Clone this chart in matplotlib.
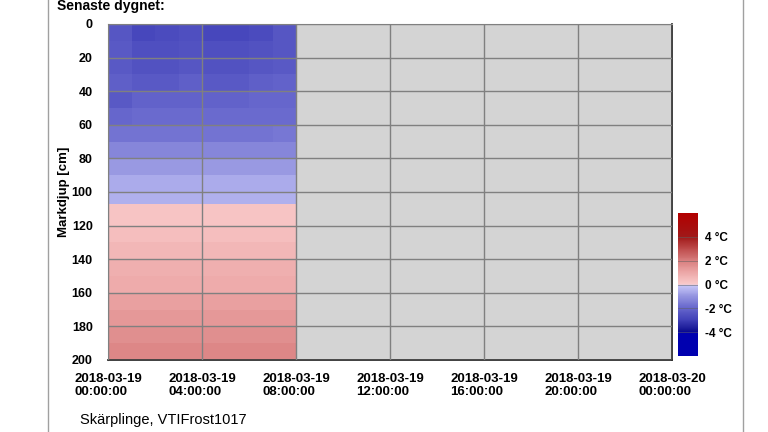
import numpy as np
import matplotlib
matplotlib.use("Agg")
import matplotlib.pyplot as plt
from matplotlib.colors import LinearSegmentedColormap, Normalize

# depth bin edges (cm) and hour edges of the measured block
depth_edges = [0, 10, 20, 30, 40, 50, 60, 70, 80, 90, 100, 107, 120, 130, 140, 150, 160, 170, 180, 190, 200]
hour_edges = [0, 1, 2, 3, 4, 5, 6, 7, 8]

# soil temperature (deg C), one row per depth bin, one column per hour
temps = [
    [-2.4, -2.8, -2.7, -2.6, -2.8, -2.8, -2.7, -2.4],
    [-2.3, -2.6, -2.6, -2.5, -2.6, -2.6, -2.5, -2.4],
    [-2.3, -2.5, -2.5, -2.4, -2.5, -2.5, -2.4, -2.3],
    [-2.2, -2.3, -2.3, -2.2, -2.3, -2.3, -2.2, -2.1],
    [-2.3, -2.1, -2.1, -2.1, -2.1, -2.1, -2.0, -2.0],
    [-2.0, -1.9, -1.9, -1.9, -1.9, -1.9, -1.9, -1.9],
    [-1.7, -1.7, -1.7, -1.7, -1.7, -1.7, -1.7, -1.6],
    [-1.3, -1.3, -1.3, -1.3, -1.3, -1.3, -1.3, -1.3],
    [-0.9, -0.9, -0.9, -0.9, -0.9, -0.9, -0.9, -0.9],
    [-0.6, -0.6, -0.6, -0.6, -0.6, -0.6, -0.6, -0.6],
    [-0.5, -0.5, -0.5, -0.5, -0.5, -0.5, -0.5, -0.5],
    [0.2, 0.2, 0.2, 0.2, 0.2, 0.2, 0.2, 0.2],
    [0.4, 0.4, 0.4, 0.4, 0.4, 0.4, 0.4, 0.4],
    [0.6, 0.6, 0.6, 0.6, 0.6, 0.6, 0.6, 0.6],
    [0.8, 0.8, 0.8, 0.8, 0.8, 0.8, 0.8, 0.8],
    [0.9, 0.9, 0.9, 0.9, 0.9, 0.9, 0.9, 0.9],
    [1.2, 1.2, 1.2, 1.2, 1.2, 1.2, 1.2, 1.2],
    [1.4, 1.4, 1.4, 1.4, 1.4, 1.4, 1.4, 1.4],
    [1.6, 1.6, 1.6, 1.6, 1.6, 1.6, 1.6, 1.6],
    [1.8, 1.8, 1.8, 1.8, 1.8, 1.8, 1.8, 1.8],
]

x_ticks = [0, 4, 8, 12, 16, 20, 24]
x_labels = ["2018-03-19\n00:00:00", "2018-03-19\n04:00:00", "2018-03-19\n08:00:00",
            "2018-03-19\n12:00:00", "2018-03-19\n16:00:00", "2018-03-19\n20:00:00",
            "2018-03-20\n00:00:00"]
y_ticks = [0, 20, 40, 60, 80, 100, 120, 140, 160, 180, 200]
cb_ticks = [4, 2, 0, -2, -4]

# blue below zero, red above, sharp break at 0
cmap = LinearSegmentedColormap.from_list("frost", [
    (0.0, (0.0, 0.0, 0.69)),
    (0.1666, (0.0, 0.0, 0.69)),
    (0.1667, (0.05, 0.05, 0.55)),
    (0.25, (0.25, 0.25, 0.72)),
    (0.3333, (0.40, 0.40, 0.80)),
    (0.4167, (0.58, 0.58, 0.88)),
    (0.4999, (0.80, 0.80, 0.98)),
    (0.5001, (0.98, 0.80, 0.80)),
    (0.5833, (0.93, 0.66, 0.66)),
    (0.6667, (0.85, 0.50, 0.50)),
    (0.75, (0.75, 0.30, 0.30)),
    (0.8333, (0.63, 0.10, 0.10)),
    (1.0, (0.70, 0.0, 0.0)),
])
norm = Normalize(-6, 6)

plt.rcParams["font.family"] = ["Liberation Sans", "DejaVu Sans"]

fig = plt.figure(figsize=(7.68, 4.32), dpi=100)
fig.patch.set_facecolor("white")

# outer panel borders
fig.add_artist(plt.Line2D([48 / 768, 48 / 768], [0, 1], color="#a0a0a0", lw=1))
fig.add_artist(plt.Line2D([743 / 768, 743 / 768], [0, 1], color="#a0a0a0", lw=1))

ax = fig.add_axes([108 / 768, 1 - 360 / 432, 564 / 768, 336 / 432])
ax.set_facecolor("#d4d4d4")
ax.pcolormesh(hour_edges, depth_edges, np.array(temps), cmap=cmap, norm=norm, shading="flat")
ax.set_xlim(0, 24)
ax.set_ylim(200, 0)
ax.set_xticks(x_ticks)
ax.set_xticklabels(x_labels, fontsize=9.5, fontweight="bold", multialignment="left")
ax.set_yticks(y_ticks)
ax.set_yticklabels([str(v) for v in y_ticks], fontsize=9, fontweight="bold")
ax.tick_params(axis="x", length=0, pad=9)
ax.tick_params(axis="y", length=0, pad=11)
ax.grid(True, color="#808080", lw=1)
ax.set_axisbelow(False)
for s in ["top", "left"]:
    ax.spines[s].set_color("#a0a0a0")
for s in ["bottom", "right"]:
    ax.spines[s].set_color("#303030")
    ax.spines[s].set_linewidth(1.3)
ax.set_ylabel("Markdjup [cm]", fontsize=9.5, fontweight="bold")
ax.yaxis.set_label_coords(-0.068, 0.5)

# colour scale
cax = fig.add_axes([678 / 768, 1 - 356 / 432, 20 / 768, 143 / 432])
grad = np.linspace(-6, 6, 241).reshape(-1, 1)
cax.imshow(grad, cmap=cmap, norm=norm, aspect="auto", origin="lower", extent=[0, 1, -6, 6])
for t in cb_ticks:
    cax.axhline(t, color="#606060", lw=0.6, alpha=0.6)
cax.set_xticks([])
cax.yaxis.tick_right()
cax.set_yticks(cb_ticks)
cax.set_yticklabels([f"{t} °C" for t in cb_ticks], fontsize=8.5, fontweight="bold")
cax.tick_params(length=0, pad=5)
for s in cax.spines.values():
    s.set_visible(False)

fig.text(57 / 768, 1 - 6 / 432, "Senaste dygnet:", fontsize=10, fontweight="bold", va="center", ha="left")
fig.text(80 / 768, 1 - 420 / 432, "Skärplinge, VTIFrost1017", fontsize=10.5, va="center", ha="left")

fig.savefig("out.png", dpi=100)
